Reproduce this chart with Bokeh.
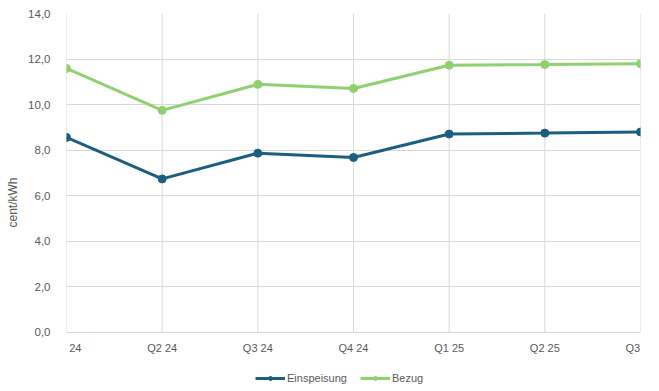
from bokeh.plotting import figure
from bokeh.models import Range1d, FixedTicker, CustomJSTickFormatter, Legend, LegendItem
from bokeh.core.properties import value
from bokeh.embed import file_html
from bokeh.resources import INLINE

quarters = ["Q1 24", "Q2 24", "Q3 24", "Q4 24", "Q1 25", "Q2 25", "Q3 25"]
einspeisung = [8.56, 6.74, 7.87, 7.68, 8.71, 8.75, 8.80]
bezug = [11.59, 9.75, 10.89, 10.71, 11.73, 11.76, 11.80]
y_ticks = [0, 2, 4, 6, 8, 10, 12, 14]
y_min, y_max = 0, 14

x = list(range(len(quarters)))

p = figure(width=659, height=391, frame_width=574, frame_height=378,
           output_backend="svg", toolbar_location=None,
           x_range=Range1d(0, len(quarters) - 1), y_range=Range1d(-2.59, 14),
           x_axis_location=None,
           min_border_left=66, min_border_right=19, min_border_top=13, min_border_bottom=0)
p.outline_line_color = None
p.background_fill_color = "white"
p.border_fill_color = "white"

font = "Liberation Sans"
grey = "#595959"
gridc = "#D9D9D9"

p.yaxis.ticker = FixedTicker(ticks=y_ticks)
p.yaxis.bounds = (y_min, y_max)
p.yaxis.formatter = CustomJSTickFormatter(code="return tick.toFixed(1).replace('.', ',');")
p.yaxis.major_tick_line_color = None
p.yaxis.minor_tick_line_color = None
p.yaxis.major_label_text_font = font
p.yaxis.major_label_text_color = grey
p.yaxis.major_label_standoff = 10
p.yaxis.major_label_text_font_size = "11.5px"
p.yaxis.axis_line_color = None
p.yaxis.axis_label = "cent/kWh"
p.yaxis.axis_label_text_font = font
p.yaxis.axis_label_text_font_style = "normal"
p.yaxis.axis_label_text_font_size = "12px"
p.yaxis.axis_label_text_color = grey
p.yaxis.axis_label_standoff = 5

p.xgrid.visible = False
p.ygrid.grid_line_color = gridc
p.ygrid.ticker = FixedTicker(ticks=y_ticks)

# vertical category grid lines, from 0 to the top of the value axis
p.segment(x0=x, y0=[y_min] * len(x), x1=x, y1=[y_max] * len(x), line_color=gridc, line_width=1)

# category labels under the value-axis zero line
p.text(x=x, y=[y_min] * len(x), text=quarters, text_align="center", text_baseline="top",
       y_offset=10, text_font=value(font), text_font_size="11px", text_color=grey)

c1 = "#1B5E80"
c2 = "#8FD16F"
l1 = p.line(x, einspeisung, line_color=c1, line_width=3)
m1 = p.scatter(x, einspeisung, size=8, fill_color=c1, line_color=c1)
l2 = p.line(x, bezug, line_color=c2, line_width=3)
m2 = p.scatter(x, bezug, size=8, fill_color=c2, line_color=c2)

legend = Legend(items=[LegendItem(label="Einspeisung", renderers=[l1, m1]),
                       LegendItem(label="Bezug", renderers=[l2, m2])],
                orientation="horizontal", location=(189, 7),
                label_text_font=font, label_text_font_size="11px", label_text_color=grey,
                label_width=63, label_height=12,
                glyph_width=30, glyph_height=10, label_standoff=2, spacing=10,
                border_line_color=None, background_fill_alpha=0, padding=2, margin=0)
p.add_layout(legend, "center")

open("out.html", "w").write(file_html(p, INLINE))
